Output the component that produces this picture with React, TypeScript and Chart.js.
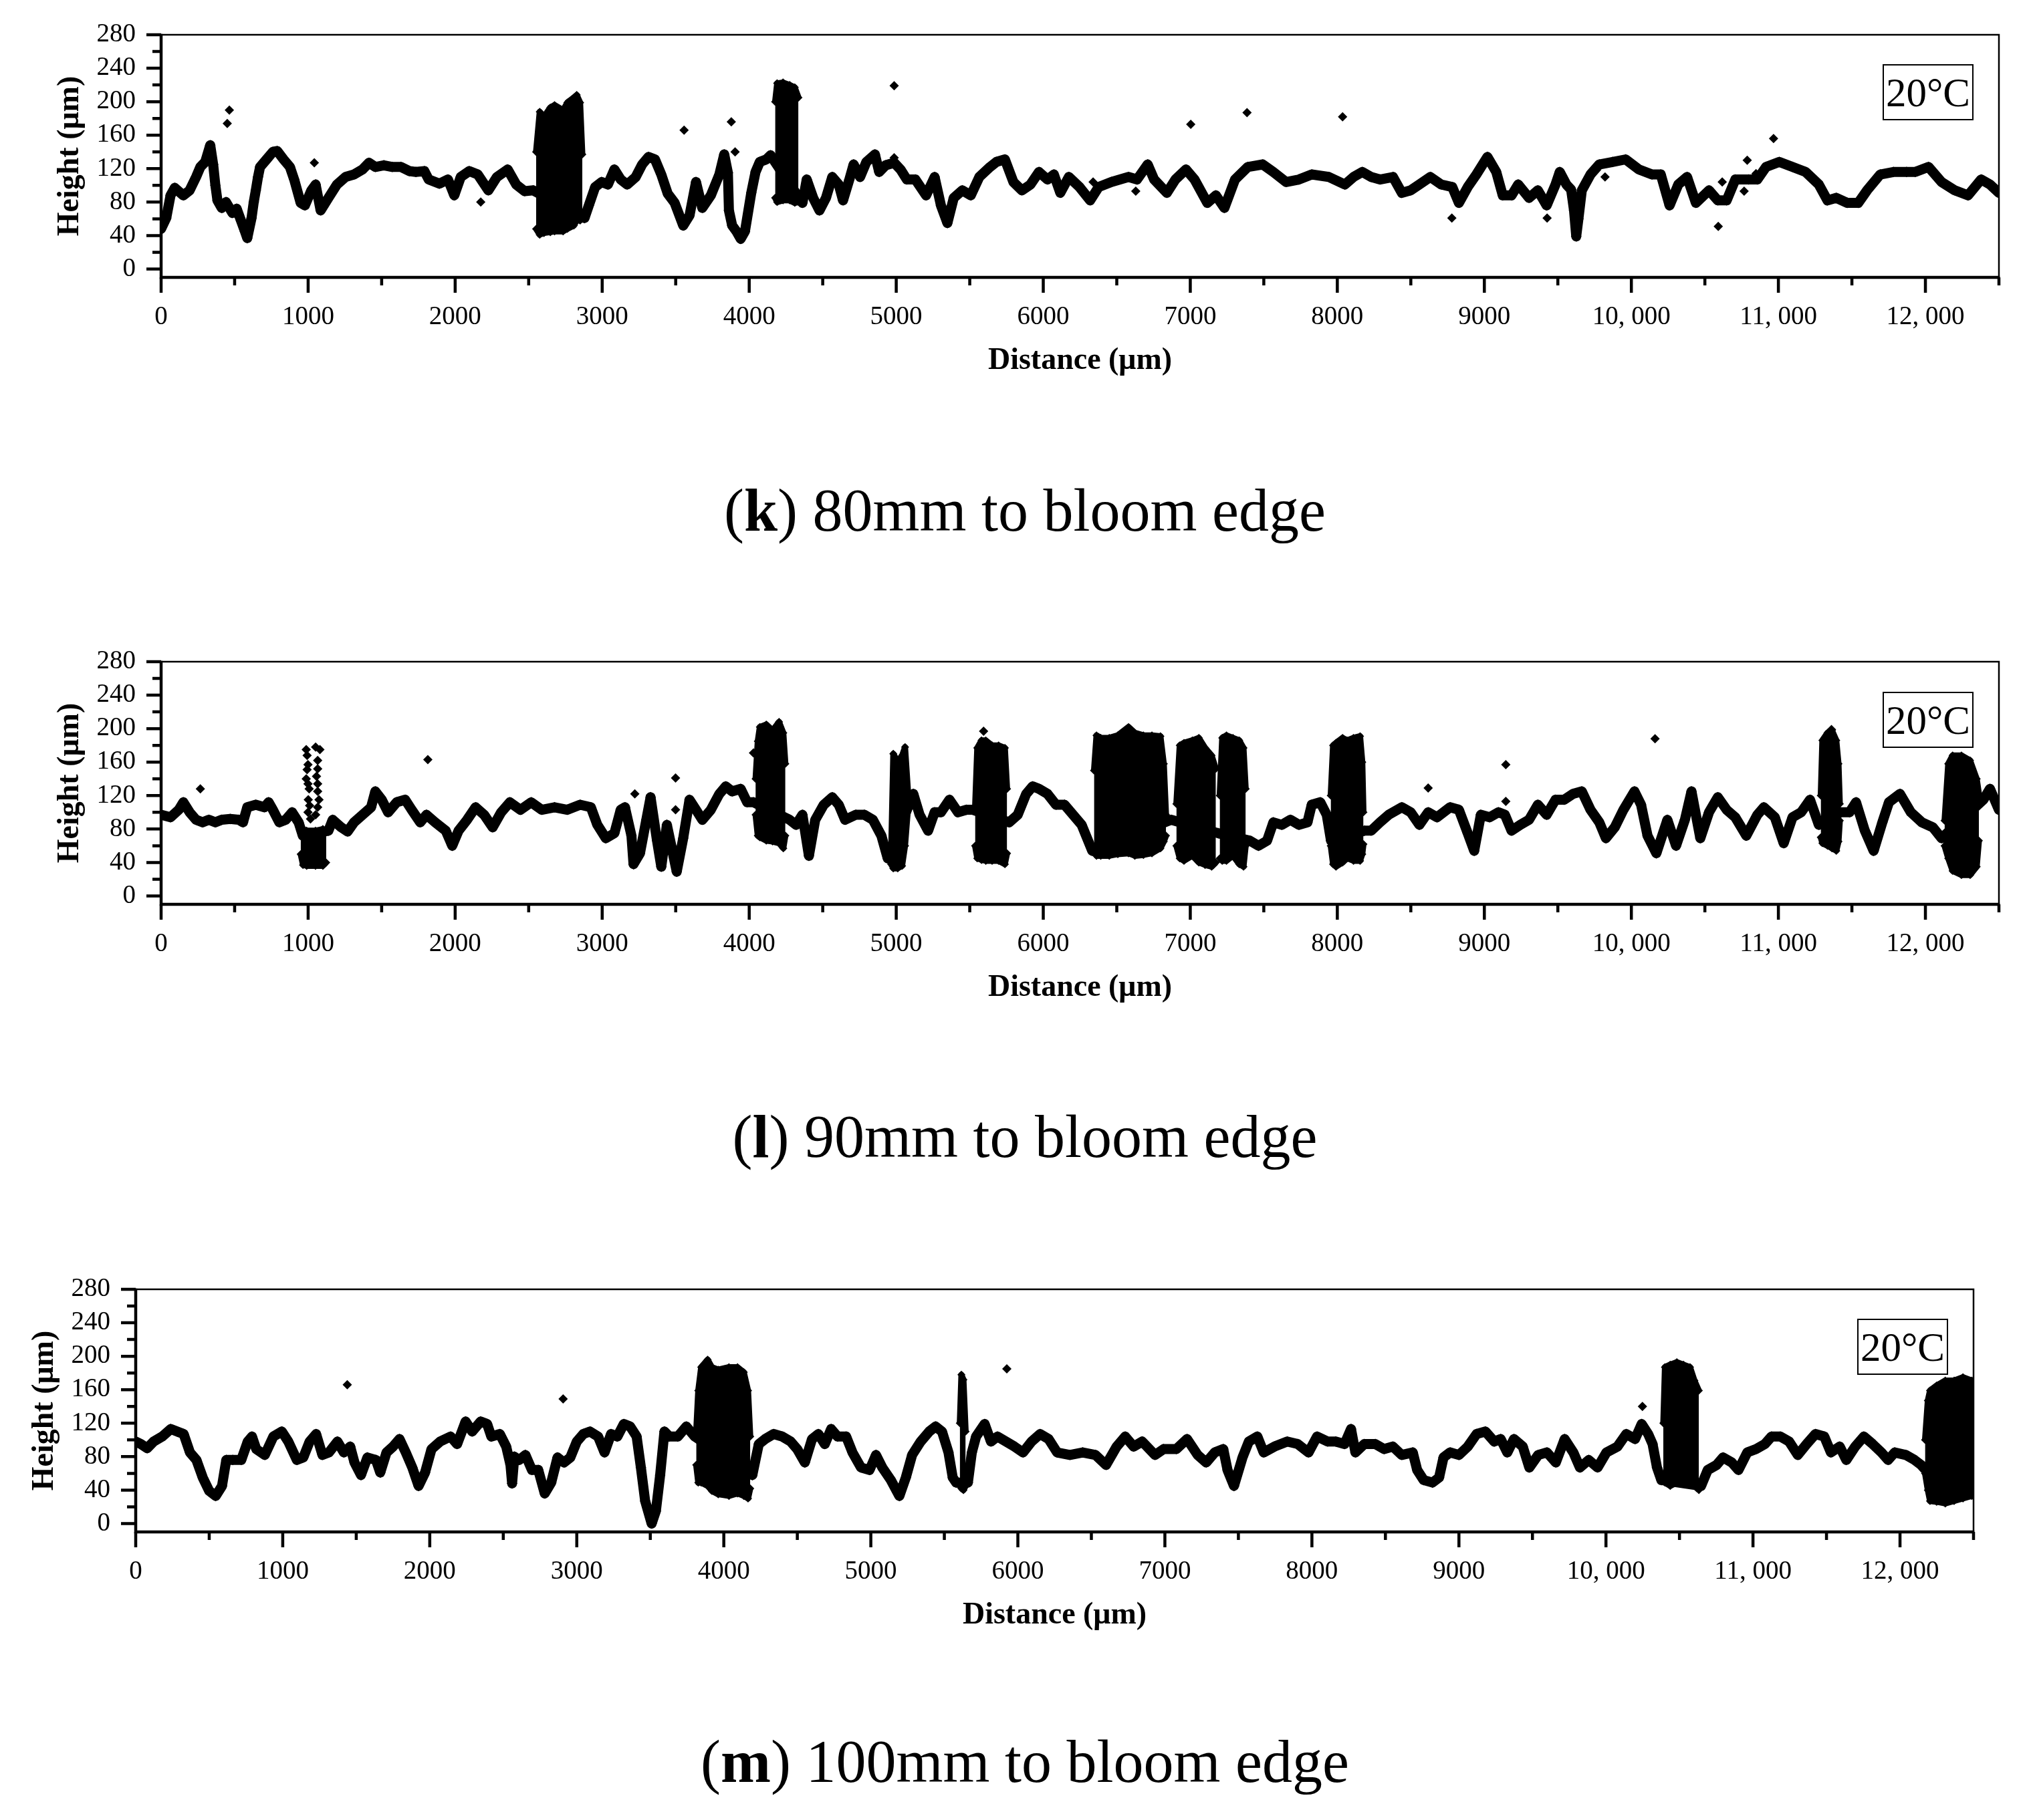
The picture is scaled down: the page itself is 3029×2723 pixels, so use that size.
import React, { useEffect, useRef } from 'react';
import { Chart, registerables } from 'chart.js';

Chart.register(...registerables);

// ---------------- axes ----------------
const xTickValues = [0, 1000, 2000, 3000, 4000, 5000, 6000, 7000, 8000, 9000, 10000, 11000, 12000];
const xTickLabels = ['0', '1000', '2000', '3000', '4000', '5000', '6000', '7000', '8000', '9000', '10, 000', '11, 000', '12, 000'];
const xMinorTickValues = [500, 1500, 2500, 3500, 4500, 5500, 6500, 7500, 8500, 9500, 10500, 11500, 12500];
const yTickValues = [0, 40, 80, 120, 160, 200, 240, 280];
const yTickLabels = ['0', '40', '80', '120', '160', '200', '240', '280'];
const yMinorTickValues = [20, 60, 100, 140, 180, 220, 260];
const xTitle = 'Distance (μm)';
const yTitle = 'Height (μm)';
const badgeText = '20°C';

// ---------------- panel (k) 80 mm ----------------
const kProfileX = [0, 35, 64, 93, 151, 194, 238, 267, 300, 334, 354, 369, 383, 412, 441, 485, 514, 543, 570, 586, 615, 630, 644, 659, 673, 717, 760, 790, 833, 876, 905, 949, 978, 1022, 1051, 1085, 1138, 1196, 1254, 1312, 1370, 1414, 1457, 1515, 1573, 1631, 1689, 1733, 1791, 1820, 1893, 1951, 1994, 2038, 2096, 2154, 2226, 2284, 2357, 2415, 2473, 2531, 2880, 2909, 2952, 2996, 3039, 3083, 3126, 3170, 3228, 3272, 3315, 3359, 3402, 3446, 3493, 3551, 3594, 3638, 3681, 3739, 3797, 3830, 3855, 3862, 3884, 3913, 3942, 3971, 4014, 4043, 4072, 4116, 4145, 4362, 4391, 4435, 4478, 4522, 4565, 4609, 4638, 4681, 4710, 4754, 4797, 4855, 4884, 4928, 4986, 5029, 5072, 5130, 5203, 5261, 5304, 5348, 5391, 5449, 5507, 5565, 5638, 5681, 5739, 5797, 5855, 5913, 5971, 6029, 6072, 6116, 6174, 6246, 6319, 6377, 6464, 6580, 6638, 6710, 6754, 6841, 6899, 6971, 7029, 7116, 7174, 7232, 7304, 7391, 7493, 7565, 7652, 7739, 7826, 7942, 8051, 8110, 8170, 8230, 8290, 8379, 8439, 8499, 8558, 8633, 8707, 8782, 8827, 8887, 8946, 9021, 9081, 9125, 9185, 9230, 9304, 9364, 9424, 9484, 9513, 9558, 9590, 9610, 9625, 9640, 9663, 9722, 9782, 9872, 9961, 10051, 10140, 10200, 10260, 10319, 10379, 10439, 10528, 10588, 10648, 10707, 10797, 10857, 10916, 11006, 11096, 11185, 11275, 11334, 11394, 11469, 11543, 11603, 11693, 11782, 11872, 11931, 12021, 12110, 12200, 12290, 12379, 12439, 12500];
const kProfileY = [48, 61, 88, 97, 88, 94, 110, 122, 128, 148, 125, 100, 82, 73, 80, 67, 72, 58, 45, 37, 61, 80, 94, 110, 122, 131, 140, 141, 131, 122, 107, 79, 76, 94, 101, 70, 85, 101, 110, 113, 119, 127, 122, 124, 122, 122, 117, 116, 117, 107, 102, 107, 88, 110, 117, 113, 94, 110, 119, 101, 93, 94, 61, 76, 98, 104, 101, 119, 107, 101, 110, 125, 134, 131, 113, 90, 79, 52, 64, 104, 73, 88, 113, 137, 115, 70, 52, 45, 36, 45, 91, 116, 128, 131, 136, 79, 107, 85, 70, 85, 110, 101, 82, 107, 125, 110, 128, 137, 116, 124, 127, 119, 107, 107, 88, 110, 76, 55, 85, 94, 88, 110, 122, 128, 131, 104, 94, 101, 116, 107, 113, 91, 110, 98, 82, 98, 104, 110, 107, 125, 107, 91, 107, 119, 107, 79, 88, 73, 107, 122, 125, 116, 104, 107, 113, 110, 101, 110, 116, 110, 107, 110, 91, 94, 101, 110, 101, 98, 79, 98, 113, 134, 116, 88, 88, 101, 85, 94, 76, 101, 116, 101, 95, 70, 39, 60, 94, 113, 125, 128, 131, 119, 113, 113, 76, 101, 110, 79, 94, 82, 82, 107, 107, 107, 122, 128, 122, 116, 101, 82, 85, 79, 79, 94, 113, 116, 116, 116, 122, 104, 94, 88, 107, 101, 91];
const kClusterX = [
  [2550, 2575, 2604, 2647, 2676, 2734, 2763, 2807, 2827, 2850, 2865],
  [4176, 4190, 4230, 4275, 4310, 4335],
];
const kClusterTop = [
  [140, 188, 182, 193, 196, 190, 199, 205, 208, 199, 137],
  [200, 222, 223, 220, 217, 205],
];
const kClusterBottom = [
  [48, 41, 43, 44, 45, 45, 48, 52, 58, 58, 61],
  [85, 80, 82, 82, 79, 80],
];
const kOutlierX = [450, 464, 1042, 2174, 3557, 3878, 3904, 4986, 4986, 6339, 6629, 7003, 7386, 8036, 8779, 9427, 9821, 10591, 10618, 10767, 10788, 10848, 10967];
const kOutlierY = [174, 190, 127, 80, 166, 176, 140, 219, 133, 104, 93, 173, 187, 182, 61, 61, 110, 51, 104, 93, 130, 114, 156];

// ---------------- panel (l) 90 mm ----------------
const lProfileX = [0, 64, 120, 151, 194, 238, 282, 325, 369, 412, 470, 528, 557, 586, 644, 702, 731, 760, 804, 847, 891, 935, 964, 1138, 1167, 1225, 1268, 1312, 1370, 1428, 1457, 1501, 1544, 1602, 1660, 1704, 1762, 1805, 1864, 1936, 1980, 2023, 2081, 2139, 2197, 2255, 2313, 2372, 2444, 2517, 2589, 2676, 2763, 2850, 2923, 2967, 3025, 3083, 3126, 3155, 3199, 3213, 3257, 3300, 3329, 3373, 3402, 3440, 3470, 3507, 3551, 3594, 3638, 3681, 3739, 3797, 3841, 3884, 3942, 3986, 4029, 4275, 4319, 4362, 4406, 4449, 4507, 4565, 4609, 4652, 4725, 4783, 4841, 4899, 4942, 5116, 5159, 5217, 5261, 5304, 5362, 5420, 5478, 5522, 5768, 5826, 5884, 5928, 5971, 6029, 6087, 6145, 6203, 6261, 6333, 6870, 7190, 7406, 7464, 7522, 7565, 7623, 7681, 7739, 7797, 7826, 7884, 7928, 7957, 8185, 8230, 8290, 8349, 8439, 8499, 8558, 8618, 8678, 8767, 8827, 8887, 8931, 8976, 9036, 9096, 9140, 9185, 9245, 9304, 9364, 9424, 9484, 9543, 9603, 9663, 9722, 9782, 9827, 9887, 9946, 10021, 10066, 10110, 10170, 10245, 10304, 10364, 10409, 10469, 10528, 10588, 10648, 10707, 10782, 10857, 10901, 10976, 11036, 11096, 11155, 11215, 11275, 11424, 11484, 11528, 11588, 11648, 11707, 11752, 11827, 11901, 11976, 12051, 12110, 12394, 12439, 12500];
const lProfileY = [97, 94, 103, 112, 100, 91, 88, 91, 88, 91, 92, 91, 88, 106, 109, 106, 112, 103, 88, 91, 100, 88, 72, 78, 91, 82, 77, 88, 97, 106, 125, 115, 100, 112, 115, 103, 88, 97, 88, 78, 60, 78, 91, 106, 97, 82, 100, 112, 103, 112, 103, 106, 103, 109, 106, 85, 69, 75, 103, 106, 72, 38, 51, 91, 118, 66, 35, 85, 60, 29, 69, 115, 103, 91, 103, 122, 131, 125, 128, 112, 112, 91, 85, 97, 48, 91, 109, 118, 109, 91, 97, 97, 91, 72, 45, 122, 97, 78, 100, 100, 115, 100, 103, 103, 88, 97, 122, 131, 128, 122, 109, 109, 97, 85, 54, 91, 75, 66, 60, 66, 88, 85, 91, 85, 88, 109, 112, 97, 66, 78, 78, 88, 97, 106, 100, 85, 100, 94, 106, 103, 75, 54, 97, 94, 100, 97, 78, 85, 91, 109, 97, 115, 115, 122, 125, 103, 88, 69, 82, 103, 125, 109, 72, 51, 91, 60, 91, 125, 69, 100, 118, 103, 94, 72, 97, 106, 94, 63, 94, 100, 115, 85, 100, 100, 112, 78, 54, 88, 112, 122, 100, 88, 82, 69, 115, 128, 103];
const lClusterX = [
  [949, 965, 990, 1050, 1100, 1123],
  [4043, 4058, 4072, 4116, 4159, 4203, 4232, 4246],
  [4965, 4980, 5010, 5040, 5060, 5080],
  [5536, 5551, 5580, 5609, 5652, 5696, 5739, 5754],
  [6345, 6362, 6391, 6449, 6507, 6580, 6623, 6681, 6739, 6797, 6820, 6835],
  [6905, 6928, 6957, 7014, 7058, 7101, 7145, 7174],
  [7200, 7217, 7246, 7290, 7333, 7362, 7377],
  [7955, 7971, 7991, 8036, 8066, 8110, 8155, 8170, 8178],
  [11288, 11299, 11334, 11364, 11394, 11409, 11418],
  [12130, 12155, 12185, 12245, 12304, 12349, 12364],
];
const lClusterTop = [
  [78, 80, 78, 78, 80, 76],
  [140, 185, 202, 205, 198, 208, 195, 158],
  [50, 170, 160, 168, 178, 125],
  [105, 177, 186, 186, 180, 180, 177, 128],
  [150, 192, 189, 189, 192, 202, 195, 192, 192, 191, 158, 97],
  [110, 180, 183, 186, 189, 177, 168, 152],
  [120, 189, 192, 189, 186, 177, 128],
  [120, 180, 183, 189, 186, 189, 191, 160, 100],
  [120, 186, 195, 198, 186, 158, 110],
  [90, 158, 168, 168, 162, 140, 122],
];
const lClusterBottom = [
  [50, 37, 36, 36, 36, 40],
  [97, 72, 70, 66, 65, 63, 57, 72],
  [38, 33, 33, 36, 60, 105],
  [60, 45, 43, 42, 42, 42, 38, 51],
  [54, 48, 48, 48, 50, 51, 48, 49, 51, 57, 65, 72],
  [60, 45, 42, 48, 40, 37, 35, 40],
  [45, 42, 42, 48, 38, 35, 60],
  [60, 38, 35, 40, 45, 42, 42, 50, 62],
  [70, 63, 60, 57, 54, 65, 90],
  [60, 45, 30, 25, 25, 35, 66],
];
const lOutlierX = [267, 987, 993, 999, 993, 987, 999, 1007, 1001, 1010, 999, 1016, 1051, 1080, 1065, 1065, 1057, 1065, 1065, 1074, 1065, 1051, 1814, 3222, 3499, 3499, 4029, 5594, 8618, 9146, 9146, 10161, 11361];
const lOutlierY = [128, 175, 168, 157, 151, 140, 134, 128, 115, 108, 100, 92, 178, 175, 162, 152, 143, 134, 125, 115, 106, 97, 163, 122, 141, 103, 171, 197, 129, 157, 113, 188, 199];

// ---------------- panel (m) 100 mm ----------------
const mProfileX = [0, 35, 78, 122, 180, 238, 282, 326, 369, 413, 456, 500, 544, 587, 616, 660, 718, 762, 791, 820, 878, 936, 994, 1038, 1096, 1140, 1183, 1227, 1270, 1314, 1372, 1416, 1459, 1488, 1532, 1576, 1634, 1663, 1706, 1750, 1794, 1837, 1881, 1924, 1968, 2012, 2070, 2142, 2186, 2244, 2288, 2346, 2390, 2419, 2477, 2520, 2549, 2560, 2575, 2608, 2651, 2695, 2738, 2782, 2826, 2869, 2913, 2956, 3000, 3044, 3090, 3145, 3189, 3233, 3276, 3320, 3363, 3407, 3436, 3465, 3509, 3538, 3567, 3596, 3629, 3687, 3745, 3803, 4194, 4238, 4281, 4339, 4397, 4455, 4499, 4551, 4600, 4643, 4687, 4730, 4774, 4832, 4875, 4933, 4991, 5035, 5078, 5136, 5194, 5238, 5281, 5339, 5397, 5441, 5484, 5528, 5557, 5580, 5660, 5687, 5716, 5774, 5817, 5861, 5919, 5977, 6035, 6093, 6151, 6209, 6267, 6354, 6441, 6528, 6600, 6672, 6730, 6788, 6846, 6933, 6991, 7078, 7151, 7223, 7281, 7339, 7397, 7426, 7470, 7528, 7571, 7629, 7672, 7745, 7832, 7904, 7977, 8035, 8107, 8162, 8222, 8266, 8296, 8356, 8431, 8491, 8551, 8611, 8686, 8716, 8760, 8820, 8865, 8895, 8940, 9000, 9060, 9120, 9180, 9240, 9284, 9329, 9374, 9434, 9479, 9539, 9599, 9659, 9719, 9778, 9823, 9883, 9943, 10003, 10078, 10138, 10198, 10243, 10287, 10317, 10347, 10377, 10647, 10692, 10752, 10796, 10856, 10901, 10961, 11021, 11081, 11126, 11186, 11246, 11305, 11365, 11425, 11485, 11530, 11590, 11635, 11695, 11754, 11814, 11874, 11919, 11964, 12039, 12099, 12144, 12170];
const mProfileY = [98, 95, 90, 98, 104, 113, 110, 107, 85, 76, 55, 39, 33, 45, 76, 76, 76, 98, 104, 89, 82, 104, 110, 98, 76, 79, 98, 107, 82, 85, 98, 85, 92, 73, 58, 79, 76, 61, 85, 92, 101, 85, 67, 45, 61, 89, 98, 104, 95, 122, 110, 122, 119, 104, 107, 92, 70, 48, 80, 76, 82, 64, 64, 36, 49, 79, 73, 79, 98, 107, 110, 104, 85, 107, 104, 119, 116, 104, 67, 27, 0, 15, 58, 110, 104, 104, 116, 104, 58, 95, 101, 107, 104, 98, 89, 73, 101, 107, 95, 113, 104, 104, 85, 67, 64, 82, 67, 52, 33, 55, 82, 98, 110, 116, 110, 85, 55, 49, 49, 85, 104, 119, 98, 104, 98, 92, 85, 98, 107, 101, 85, 82, 85, 82, 70, 92, 104, 92, 98, 82, 89, 89, 101, 82, 73, 85, 89, 64, 45, 79, 98, 104, 85, 92, 98, 95, 85, 104, 98, 98, 95, 113, 85, 95, 95, 89, 92, 82, 85, 64, 52, 49, 55, 79, 85, 82, 92, 107, 110, 98, 101, 85, 101, 92, 67, 82, 85, 73, 101, 85, 67, 76, 67, 85, 92, 107, 101, 119, 107, 95, 67, 52, 45, 64, 70, 79, 73, 64, 85, 89, 95, 104, 104, 98, 82, 95, 107, 104, 85, 92, 76, 92, 104, 95, 85, 76, 85, 82, 76, 70, 65];
const mClusterX = [
  [3812, 3826, 3846, 3890, 3919, 3962, 4035, 4093, 4136, 4165, 4180],
  [5605, 5616, 5630, 5645],
  [10390, 10401, 10437, 10482, 10527, 10572, 10602, 10632],
  [12170, 12189, 12204, 12249, 12308, 12368, 12428, 12488, 12500],
];
const mClusterTop = [
  [110, 159, 187, 196, 187, 184, 187, 187, 181, 159, 104],
  [120, 178, 172, 110],
  [120, 187, 190, 193, 190, 187, 171, 159],
  [100, 147, 159, 165, 171, 171, 175, 171, 171],
];
const mClusterBottom = [
  [70, 49, 49, 45, 39, 35, 33, 36, 33, 30, 42],
  [45, 42, 40, 45],
  [52, 49, 45, 49, 52, 47, 45, 40],
  [60, 40, 27, 26, 24, 27, 30, 33, 33],
];
const mOutlierX = [1439, 2907, 5925, 10248];
const mOutlierY = [166, 149, 185, 140];

// ---------------- drawing ----------------
const FONT = '"Liberation Serif", "Times New Roman", serif';
const CANVAS_W = 3029;
const CANVAS_H = 600;
const PLOT_TOP = 52;
const PLOT_BOTTOM = 415;

const framePlugin = {
  id: 'frame',
  afterDraw(chart: any) {
    const { ctx, chartArea: a, scales } = chart;
    const xs = scales.x;
    const ys = scales.y;
    ctx.save();
    ctx.strokeStyle = '#000';
    ctx.lineCap = 'butt';
    ctx.lineWidth = 2.5;
    ctx.beginPath();
    ctx.moveTo(a.left, a.top);
    ctx.lineTo(a.right, a.top);
    ctx.lineTo(a.right, a.bottom);
    ctx.stroke();
    ctx.lineWidth = 4.5;
    ctx.beginPath();
    ctx.moveTo(a.left, a.top - 1.25);
    ctx.lineTo(a.left, a.bottom);
    ctx.lineTo(a.right + 1.25, a.bottom);
    ctx.stroke();
    ctx.beginPath();
    for (const v of yTickValues) {
      const y = ys.getPixelForValue(v);
      ctx.moveTo(a.left - 22, y);
      ctx.lineTo(a.left, y);
    }
    for (const v of yMinorTickValues) {
      const y = ys.getPixelForValue(v);
      ctx.moveTo(a.left - 13, y);
      ctx.lineTo(a.left, y);
    }
    for (const v of xTickValues) {
      const x = xs.getPixelForValue(v);
      ctx.moveTo(x, a.bottom);
      ctx.lineTo(x, a.bottom + 23);
    }
    for (const v of xMinorTickValues) {
      const x = xs.getPixelForValue(v);
      ctx.moveTo(x, a.bottom);
      ctx.lineTo(x, a.bottom + 12);
    }
    ctx.stroke();
    ctx.restore();
  },
};

type PanelProps = {
  top: number;
  plotLeft: number;
  plotRight: number;
  yTitleX: number;
  px: number[];
  py: number[];
  cx: number[][];
  ct: number[][];
  cb: number[][];
  ox: number[];
  oy: number[];
};

function Panel(p: PanelProps) {
  const ref = useRef<HTMLCanvasElement>(null);
  useEffect(() => {
    if (!ref.current) return;
    const datasets: any[] = [];
    datasets.push({
      label: 'profile',
      data: p.px.map((x, i) => ({ x, y: p.py[i] })),
      showLine: true,
      borderColor: '#000',
      backgroundColor: '#000',
      borderWidth: 15,
      borderJoinStyle: 'round',
      borderCapStyle: 'round',
      pointStyle: 'rectRot',
      pointRadius: 8,
      pointBorderWidth: 0,
      pointBackgroundColor: '#000',
      fill: false,
      clip: 0,
    });
    p.cx.forEach((xsArr, ci) => {
      datasets.push({
        label: 'cluster-top-' + ci,
        data: xsArr.map((x, i) => ({ x, y: p.ct[ci][i] })),
        showLine: true,
        borderColor: '#000',
        borderWidth: 9,
        borderJoinStyle: 'round',
        pointStyle: 'rectRot',
        pointRadius: 6,
        pointBorderWidth: 0,
        pointBackgroundColor: '#000',
        fill: false,
        clip: 0,
      });
      datasets.push({
        label: 'cluster-bottom-' + ci,
        data: xsArr.map((x, i) => ({ x, y: p.cb[ci][i] })),
        showLine: true,
        borderColor: '#000',
        backgroundColor: '#000',
        borderWidth: 9,
        borderJoinStyle: 'round',
        pointStyle: 'rectRot',
        pointRadius: 6,
        pointBorderWidth: 0,
        pointBackgroundColor: '#000',
        fill: '-1',
        clip: 0,
      });
    });
    datasets.push({
      label: 'outliers',
      data: p.ox.map((x, i) => ({ x, y: p.oy[i] })),
      showLine: false,
      pointStyle: 'rectRot',
      pointRadius: 7,
      pointBorderWidth: 0,
      pointBackgroundColor: '#000',
      backgroundColor: '#000',
      borderColor: '#000',
      borderWidth: 0,
      clip: 0,
    });

    const chart = new Chart(ref.current, {
      type: 'line',
      data: { datasets },
      options: {
        animation: false,
        responsive: false,
        devicePixelRatio: 1,
        events: [],
        layout: { padding: { top: PLOT_TOP, left: 0, right: CANVAS_W - p.plotRight, bottom: 0 } },
        plugins: { legend: { display: false }, tooltip: { enabled: false } },
        scales: {
          x: {
            type: 'linear',
            min: 0,
            max: 12500,
            grid: { display: false, drawTicks: false },
            border: { display: false },
            afterBuildTicks: (s: any) => {
              s.ticks = xTickValues.map((v) => ({ value: v }));
            },
            afterFit: (s: any) => {
              s.height = CANVAS_H - PLOT_BOTTOM;
              s.paddingLeft = 0;
              s.paddingRight = 0;
              s.paddingTop = 0;
              s.paddingBottom = 0;
            },
            ticks: {
              padding: 36,
              maxRotation: 0,
              autoSkip: false,
              color: '#000',
              font: { family: FONT, size: 39 },
              callback: (v: any) => {
                const i = xTickValues.indexOf(Number(v));
                return i >= 0 ? xTickLabels[i] : '';
              },
            },
            title: {
              display: true,
              text: xTitle,
              color: '#000',
              font: { family: FONT, size: 46, weight: 'bold' },
              padding: { top: 0, bottom: 32 },
            },
          },
          y: {
            type: 'linear',
            min: -10,
            max: 280,
            grid: { display: false, drawTicks: false },
            border: { display: false },
            afterBuildTicks: (s: any) => {
              s.ticks = yTickValues.map((v) => ({ value: v }));
            },
            afterFit: (s: any) => {
              s.width = p.plotLeft;
              s.paddingLeft = 0;
              s.paddingRight = 0;
              s.paddingTop = 0;
              s.paddingBottom = 0;
            },
            ticks: {
              padding: 38,
              autoSkip: false,
              color: '#000',
              font: { family: FONT, size: 39 },
              callback: (v: any) => {
                const i = yTickValues.indexOf(Number(v));
                return i >= 0 ? yTickLabels[i] : '';
              },
            },
            title: {
              display: true,
              text: yTitle,
              color: '#000',
              font: { family: FONT, size: 46, weight: 'bold' },
              padding: { top: p.yTitleX - 27.6, bottom: 0 },
            },
          },
        },
      },
      plugins: [framePlugin],
    } as any);
    return () => chart.destroy();
  }, []);
  return (
    <canvas
      ref={ref}
      width={CANVAS_W}
      height={CANVAS_H}
      style={{ position: 'absolute', left: 0, top: p.top, display: 'block' }}
    />
  );
}

function Badge({ left, top }: { left: number; top: number }) {
  return (
    <div
      style={{
        position: 'absolute',
        left,
        top,
        width: 136,
        height: 84,
        boxSizing: 'border-box',
        border: '2px solid #000',
        background: '#fff',
        display: 'flex',
        alignItems: 'center',
        justifyContent: 'center',
        fontFamily: FONT,
        fontSize: 61,
        lineHeight: '61px',
        color: '#000',
      }}
    >
      {badgeText}
    </div>
  );
}

function Caption({ baseline, letter, rest }: { baseline: number; letter: string; rest: string }) {
  return (
    <div
      style={{
        position: 'absolute',
        left: 733,
        width: 1600,
        top: baseline - 75.4,
        textAlign: 'center',
        fontFamily: FONT,
        fontSize: 90,
        lineHeight: '90px',
        color: '#000',
        whiteSpace: 'nowrap',
      }}
    >
      (<b>{letter}</b>){rest}
    </div>
  );
}

export default function App() {
  return (
    <div
      style={{
        position: 'absolute',
        left: 0,
        top: 0,
        width: 3029,
        height: 2723,
        background: '#fff',
        overflow: 'hidden',
      }}
    >
      <Panel top={0} plotLeft={241} plotRight={2990} yTitleX={105} px={kProfileX} py={kProfileY} cx={kClusterX} ct={kClusterTop} cb={kClusterBottom} ox={kOutlierX} oy={kOutlierY} />
      <Badge left={2816} top={96} />
      <Caption baseline={794} letter="k" rest=" 80mm to bloom edge" />

      <Panel top={938} plotLeft={241} plotRight={2990} yTitleX={105} px={lProfileX} py={lProfileY} cx={lClusterX} ct={lClusterTop} cb={lClusterBottom} ox={lOutlierX} oy={lOutlierY} />
      <Badge left={2816} top={1035} />
      <Caption baseline={1731} letter="l" rest=" 90mm to bloom edge" />

      <Panel top={1877} plotLeft={203} plotRight={2952} yTitleX={67.5} px={mProfileX} py={mProfileY} cx={mClusterX} ct={mClusterTop} cb={mClusterBottom} ox={mOutlierX} oy={mOutlierY} />
      <Badge left={2778} top={1973} />
      <Caption baseline={2666} letter="m" rest=" 100mm to bloom edge" />
    </div>
  );
}
